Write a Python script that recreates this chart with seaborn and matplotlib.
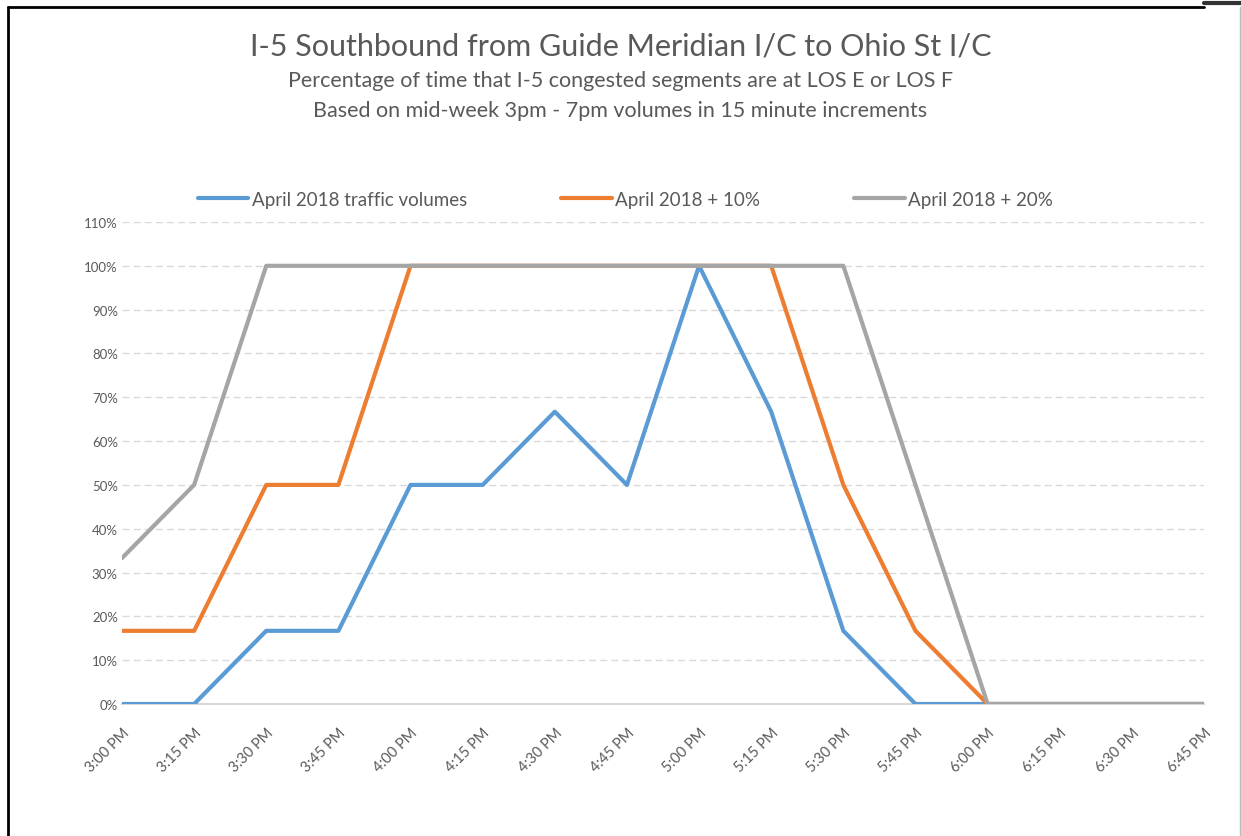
import pandas as pd
import matplotlib.pyplot as plt
import seaborn as sns
from matplotlib.lines import Line2D
from matplotlib.ticker import PercentFormatter

# Chart data
times = ['3:00 PM', '3:15 PM', '3:30 PM', '3:45 PM', '4:00 PM', '4:15 PM', '4:30 PM', '4:45 PM',
         '5:00 PM', '5:15 PM', '5:30 PM', '5:45 PM', '6:00 PM', '6:15 PM', '6:30 PM', '6:45 PM']
base_2018 = [0, 0, 16.7, 16.7, 50, 50, 66.7, 50, 100, 66.7, 16.7, 0, 0, 0, 0, 0]
plus_10 = [16.7, 16.7, 50, 50, 100, 100, 100, 100, 100, 100, 50, 16.7, 0, 0, 0, 0]
plus_20 = [33.3, 50, 100, 100, 100, 100, 100, 100, 100, 100, 100, 50, 0, 0, 0, 0]
series_names = ['April 2018 traffic volumes', 'April 2018 + 10%', 'April 2018 + 20%']
y_ticks = [0, 10, 20, 30, 40, 50, 60, 70, 80, 90, 100, 110]

sns.set_style('white')
plt.rcParams['font.family'] = ['Lato', 'DejaVu Sans']

rows = []
for name, vals in zip(series_names, [base_2018, plus_10, plus_20]):
    for i, v in enumerate(vals):
        rows.append({'slot': i, 'pct': v / 100, 'series': name})
df = pd.DataFrame(rows)

palette = {series_names[0]: '#5B9BD5', series_names[1]: '#ED7D31', series_names[2]: '#A5A5A5'}
text_grey = '#595959'

fig = plt.figure(figsize=(12.41, 8.37), dpi=100)
ax = fig.add_axes([0.0983, 0.1577, 0.8719, 0.5759])

sns.lineplot(data=df, x='slot', y='pct', hue='series', palette=palette,
             linewidth=3, ax=ax, legend=False)

ax.set_xlim(0, len(times) - 1)
ax.set_ylim(0, 1.10)
ax.set_yticks([t / 100 for t in y_ticks])
ax.yaxis.set_major_formatter(PercentFormatter(1.0, decimals=0))
ax.set_xticks(range(len(times)))
ax.set_xticklabels(times, rotation=45, ha='right', rotation_mode='anchor')
ax.tick_params(axis='x', direction='inout', length=12, color='#D9D9D9', width=1.2,
               labelsize=10.5, labelcolor=text_grey, pad=9)
ax.tick_params(axis='y', length=0, labelsize=9.5, labelcolor=text_grey, pad=3)
ax.set_xlabel('')
ax.set_ylabel('')

for t in y_ticks[1:]:
    ax.axhline(t / 100, color='#D9D9D9', linestyle=(0, (5, 3)), linewidth=1, zorder=0)

for side in ['top', 'right', 'left']:
    ax.spines[side].set_visible(False)
ax.spines['bottom'].set_color('#D9D9D9')
ax.spines['bottom'].set_linewidth(1.5)
ax.spines['bottom'].set_zorder(0.5)

handles = [Line2D([0], [0], color=palette[n], linewidth=3) for n in series_names]
fig.legend(handles, series_names, loc='center', bbox_to_anchor=(0.504, 0.761), ncol=3,
           frameon=False, fontsize=13.5, handlelength=2.7, handletextpad=0.2,
           columnspacing=5.0, labelcolor=text_grey)

fig.text(0.5, 0.945, 'I-5 Southbound from Guide Meridian I/C to Ohio St I/C',
         ha='center', va='center', fontsize=22, color=text_grey)
fig.text(0.5, 0.903, 'Percentage of time that I-5 congested segments are at LOS E or LOS F',
         ha='center', va='center', fontsize=15.5, color=text_grey)
fig.text(0.5, 0.867, 'Based on mid-week 3pm - 7pm volumes in 15 minute increments',
         ha='center', va='center', fontsize=15.5, color=text_grey)

# outer frame as in the screenshot
fig.add_artist(Line2D([0.0065, 0.0065], [0.0, 0.99], color='black', linewidth=2, transform=fig.transFigure))
fig.add_artist(Line2D([0.0065, 0.97], [0.99, 0.99], color='black', linewidth=2, transform=fig.transFigure))
fig.add_artist(Line2D([0.97, 1.0], [0.995, 0.995], color='#333333', linewidth=3, transform=fig.transFigure))
fig.add_artist(Line2D([0.999, 0.999], [0.0, 0.99], color='#BBBBBB', linewidth=1, transform=fig.transFigure))

fig.savefig('out.png', dpi=100)
